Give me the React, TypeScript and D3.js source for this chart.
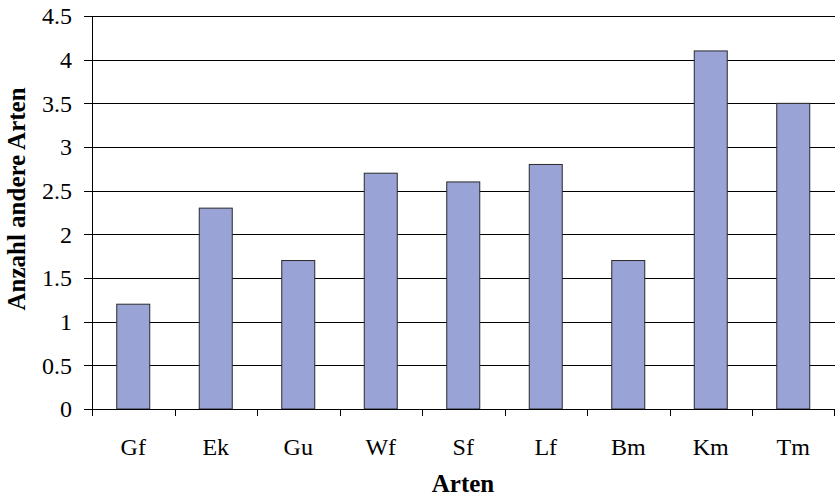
import React from "react";
import * as d3 from "d3";

const categories = ["Gf", "Ek", "Gu", "Wf", "Sf", "Lf", "Bm", "Km", "Tm"];
const values = [1.2, 2.3, 1.7, 2.7, 2.6, 2.8, 1.7, 4.1, 3.5];
const yTicks = [0, 0.5, 1, 1.5, 2, 2.5, 3, 3.5, 4, 4.5];

const W = 835;
const H = 497;
const left = 92;
const right = 834.5;
const top = 16;
const bottom = 409;
const font = "'Liberation Serif', 'Times New Roman', serif";

export default function App() {
  const x = d3.scaleBand<string>().domain(categories).range([left, right]).paddingInner(0).paddingOuter(0);
  const y = d3.scaleLinear().domain([0, 4.5]).range([bottom, top]);
  const bw = x.bandwidth() * 0.4;
  const snap = (v: number) => Math.round(v) + 0.5;

  return (
    <svg width={W} height={H} style={{ position: "absolute", left: 0, top: 0, background: "#fff" }}>
      {yTicks.slice(1).map((t) => (
        <line key={"g" + t} x1={left} x2={W} y1={snap(y(t))} y2={snap(y(t))} stroke="#000" strokeWidth={1} />
      ))}
      {categories.map((c, i) => {
        const cx = (x(c) as number) + x.bandwidth() / 2;
        return (
          <rect
            key={c}
            x={cx - bw / 2}
            y={y(values[i])}
            width={bw}
            height={bottom - y(values[i])}
            fill="#99A3D5"
            stroke="#2a2a2a"
            strokeWidth={1}
          />
        );
      })}
      <line x1={snap(left)} x2={snap(left)} y1={top} y2={snap(bottom)} stroke="#000" strokeWidth={1} />
      <line x1={left} x2={W} y1={snap(bottom)} y2={snap(bottom)} stroke="#000" strokeWidth={1} />
      {yTicks.map((t) => (
        <g key={"t" + t}>
          <line x1={left - 8} x2={left} y1={snap(y(t))} y2={snap(y(t))} stroke="#000" strokeWidth={1} />
          <text x={72} y={y(t)} dy="0.35em" textAnchor="end" fontFamily={font} fontSize={24} fill="#000">
            {String(t)}
          </text>
        </g>
      ))}
      {categories.map((c) => (
        <line key={"ct" + c} x1={snap(x(c) as number)} x2={snap(x(c) as number)} y1={bottom} y2={bottom + 7} stroke="#000" strokeWidth={1} />
      ))}
      <line x1={right} x2={right} y1={bottom} y2={bottom + 7} stroke="#000" strokeWidth={1} />
      {categories.map((c) => (
        <text key={"cl" + c} x={(x(c) as number) + x.bandwidth() / 2} y={455} textAnchor="middle" fontFamily={font} fontSize={24} fill="#000">
          {c}
        </text>
      ))}
      <text x={463} y={492} textAnchor="middle" fontFamily={font} fontSize={25} fontWeight="bold" fill="#000">
        Arten
      </text>
      <text
        transform={`translate(25, 199) rotate(-90)`}
        textAnchor="middle"
        fontFamily={font}
        fontSize={25}
        fontWeight="bold"
        fill="#000"
      >
        Anzahl andere Arten
      </text>
    </svg>
  );
}
